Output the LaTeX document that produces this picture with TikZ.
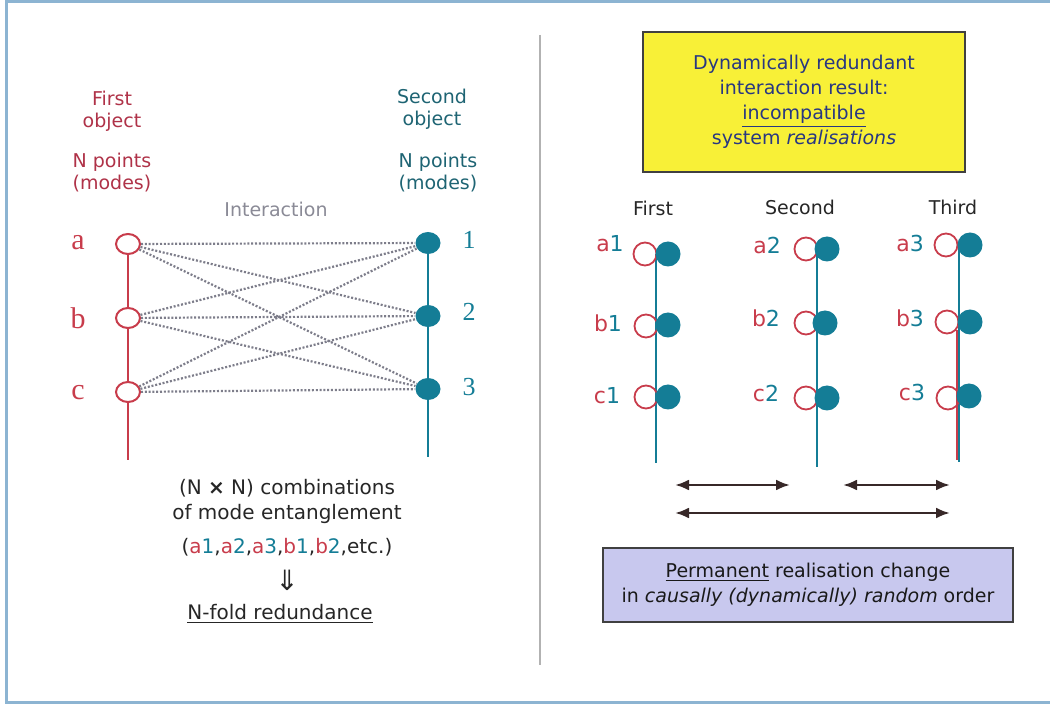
\documentclass[tikz,border=0pt]{standalone}
\usepackage{fontspec}
\setmainfont{DejaVu Sans}
\newfontfamily\labelserif{Liberation Serif}
\usetikzlibrary{shapes.geometric, arrows.meta}

\definecolor{objred}{RGB}{200,60,75}
\definecolor{objteal}{RGB}{20,125,150}
\definecolor{txtred}{RGB}{175,50,72}
\definecolor{txtteal}{RGB}{30,100,115}
\definecolor{linkgray}{RGB}{125,125,138}
\definecolor{frameblue}{RGB}{140,180,210}
\definecolor{boxyellow}{RGB}{248,240,55}
\definecolor{boxlilac}{RGB}{200,200,238}
\definecolor{navytext}{RGB}{40,55,130}
\definecolor{arrowdark}{RGB}{55,40,40}

\tikzset{
	openpt/.style = {draw = objred, fill = white, line width = 1pt, ellipse, inner sep = 0, minimum width = 12pt, minimum height = 10pt},
	fullpt/.style = {fill = objteal, ellipse, inner sep = 0, minimum width = 12.5pt, minimum height = 11pt},
	ropen/.style = {draw = objred, line width = 0.9pt, circle, inner sep = 0, minimum size = 11.5pt},
	rfull/.style = {fill = objteal, circle, inner sep = 0, minimum size = 12.5pt},
	link/.style = {draw = linkgray, line width = 1.1pt, dash pattern = on 1pt off 0.9pt},
	caption/.style = {font = \fontsize{9.5}{11}\selectfont, align = center},
	realis/.style = {font = \fontsize{11}{13}\selectfont, anchor = center},
	infobox/.style = {draw = black!75, line width = 0.6pt, inner sep = 0, align = center, font = \fontsize{9.5}{12.5}\selectfont}
}

\newcommand{\lr}[2]{{\color{objred}#1}{\color{objteal}#2}}

\begin{document}
\begin{tikzpicture}[x = 0.5pt, y = -0.5pt, > = {Latex[length = 7pt, width = 5.5pt]}]

	% Frame

	\useasboundingbox (0, 0) rectangle (1050, 705);
	\draw [frameblue, line width = 1.5pt] (1050, 2) -- (6, 2) -- (6, 702) -- (1050, 702);
	\draw [black!30, line width = 1pt] (540, 35) -- (540, 665);

	% First and second object

	\node [caption, txtred] (firstobj) at (112, 111) {First\\object};
	\node [caption, txtred] (firstpts) at (112, 173) {N points\\(modes)};
	\node [caption, txtteal] (secondobj) at (432, 109) {Second\\object};
	\node [caption, txtteal] (secondpts) at (438, 173) {N points\\(modes)};
	\node [caption, linkgray!90] (interact) at (276, 209) {Interaction};

	\node [openpt] (a) at (128, 244) {};
	\node [openpt] (b) at (128, 318) {};
	\node [openpt] (c) at (128, 392) {};
	\coordinate (redend) at (128, 460);

	\node [fullpt] (n1) at (428, 243) {};
	\node [fullpt] (n2) at (428, 316) {};
	\node [fullpt] (n3) at (428, 389) {};
	\coordinate (tealend) at (428, 457);

	\draw [objred, line width = 1pt] (a) -- (b) -- (c) -- (redend);
	\draw [objteal, line width = 1pt] (n1) -- (n2) -- (n3) -- (tealend);

	\node [objred, font = \labelserif\fontsize{15}{15}\selectfont] (la) at (78, 243) {a};
	\node [objred, font = \labelserif\fontsize{15}{15}\selectfont] (lb) at (78, 318) {b};
	\node [objred, font = \labelserif\fontsize{15}{15}\selectfont] (lc) at (78, 393) {c};
	\node [objteal, font = \labelserif\fontsize{13}{13}\selectfont] (l1) at (469, 240) {1};
	\node [objteal, font = \labelserif\fontsize{13}{13}\selectfont] (l2) at (469, 312) {2};
	\node [objteal, font = \labelserif\fontsize{13}{13}\selectfont] (l3) at (469, 387) {3};

	% Interaction links

	\draw [link] (a) -- (n1);
	\draw [link] (a) -- (n2);
	\draw [link] (a) -- (n3);
	\draw [link] (b) -- (n1);
	\draw [link] (b) -- (n2);
	\draw [link] (b) -- (n3);
	\draw [link] (c) -- (n1);
	\draw [link] (c) -- (n2);
	\draw [link] (c) -- (n3);

	% Combinations

	\node [caption, black!85, font = \fontsize{10}{12.5}\selectfont] (combi) at (287, 501) {(N {\bfseries ×} N) combinations\\of mode entanglement};
	\node [caption, black!85, font = \fontsize{10}{12.5}\selectfont] (pairs) at (287, 547) {(\lr{a}{1},\lr{a}{2},\lr{a}{3},\lr{b}{1},\lr{b}{2},etc.)};
	\node [caption, black!85, font = \fontsize{14}{14}\selectfont] (implies) at (287, 580) {⇓};
	\node [caption, black!85, font = \fontsize{10}{12.5}\selectfont] (redund) at (280, 614) {\underline{N-fold redundance}};

	% Result box

	\node [infobox, fill = boxyellow, text = navytext, minimum width = 161pt, minimum height = 70pt] (result) at (804, 102) {Dynamically redundant\\interaction result:\\\underline{incompatible}\\system \emph{realisations}};

	% Realisations

	\node [caption, black!85] (hfirst) at (653, 208) {First};
	\node [caption, black!85] (hsecond) at (800, 207) {Second};
	\node [caption, black!85] (hthird) at (953, 207) {Third};

	\coordinate (top1) at (656, 254);
	\coordinate (bot1) at (656, 463);
	\coordinate (top2) at (817, 249);
	\coordinate (bot2) at (817, 467);
	\coordinate (top3) at (959, 245);
	\coordinate (bot3) at (959, 462);
	\coordinate (redtop3) at (957, 330);
	\coordinate (redbot3) at (957, 460);

	\draw [objteal, line width = 0.9pt] (top1) -- (bot1);
	\draw [objteal, line width = 0.9pt] (top2) -- (bot2);
	\draw [objred, line width = 0.9pt] (redtop3) -- (redbot3);
	\draw [objteal, line width = 0.9pt] (top3) -- (bot3);

	\node [ropen] (oa1) at (645, 254) {};
	\node [ropen] (ob1) at (646, 326) {};
	\node [ropen] (oc1) at (646, 397) {};
	\node [rfull] (fa1) at (668, 254) {};
	\node [rfull] (fb1) at (668, 325) {};
	\node [rfull] (fc1) at (668, 397) {};

	\node [ropen] (oa2) at (806, 249) {};
	\node [ropen] (ob2) at (806, 323) {};
	\node [ropen] (oc2) at (806, 398) {};
	\node [rfull] (fa2) at (827, 249) {};
	\node [rfull] (fb2) at (825, 323) {};
	\node [rfull] (fc2) at (827, 398) {};

	\node [ropen] (oa3) at (946, 245) {};
	\node [ropen] (ob3) at (947, 322) {};
	\node [ropen] (oc3) at (948, 398) {};
	\node [rfull] (fa3) at (970, 245) {};
	\node [rfull] (fb3) at (970, 322) {};
	\node [rfull] (fc3) at (969, 396) {};

	\node [realis] (la1) at (610, 244) {\lr{a}{1}};
	\node [realis] (lb1) at (608, 323) {\lr{b}{1}};
	\node [realis] (lc1) at (607, 396) {\lr{c}{1}};
	\node [realis] (la2) at (767, 245) {\lr{a}{2}};
	\node [realis] (lb2) at (766, 318) {\lr{b}{2}};
	\node [realis] (lc2) at (766, 393) {\lr{c}{2}};
	\node [realis] (la3) at (910, 243) {\lr{a}{3}};
	\node [realis] (lb3) at (910, 318) {\lr{b}{3}};
	\node [realis] (lc3) at (912, 392) {\lr{c}{3}};

	% Changes

	\coordinate (chfrom) at (675, 485);
	\coordinate (chmid) at (790, 485);
	\coordinate (chback) at (843, 485);
	\coordinate (chto) at (950, 485);
	\coordinate (allfrom) at (675, 513);
	\coordinate (allto) at (950, 513);

	\draw [<->, arrowdark, line width = 1.3pt] (chfrom) -- (chmid);
	\draw [<->, arrowdark, line width = 1.3pt] (chback) -- (chto);
	\draw [<->, arrowdark, line width = 1.3pt] (allfrom) -- (allto);

	% Change box

	\node [infobox, fill = boxlilac, text = black!90, minimum width = 205pt, minimum height = 37pt] (change) at (808, 585) {\underline{Permanent} realisation change\\in \emph{causally (dynamically) random} order};

\end{tikzpicture}
\end{document}
